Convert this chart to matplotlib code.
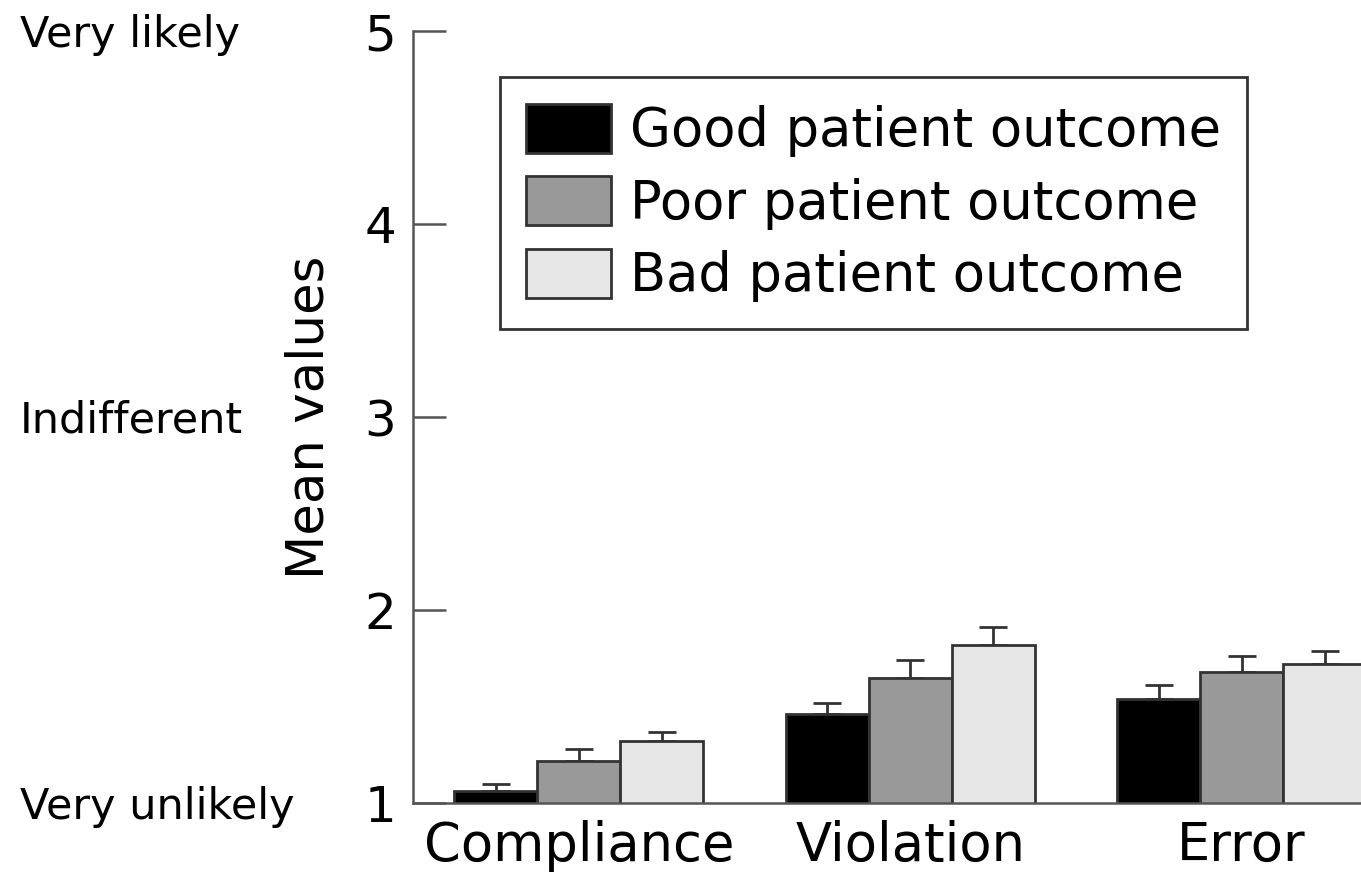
import numpy as np
import matplotlib.pyplot as plt
from matplotlib.transforms import blended_transform_factory

categories = ['Compliance', 'Violation', 'Error']
series = ['Good patient outcome', 'Poor patient outcome', 'Bad patient outcome']
good = [1.06, 1.46, 1.54]
poor = [1.22, 1.65, 1.68]
bad = [1.32, 1.82, 1.72]
good_err = [0.04, 0.06, 0.07]
poor_err = [0.06, 0.09, 0.08]
bad_err = [0.05, 0.09, 0.07]
yticks = [1, 2, 3, 4, 5]
scale_labels = {5: 'Very likely', 3: 'Indifferent', 1: 'Very unlikely'}

colors = ['#000000', '#999999', '#e6e6e6']
edge = '#333333'

fig = plt.figure(figsize=(13.61, 8.82), dpi=100)
ax = fig.add_axes([0.3035, 0.0896, 0.6965, 0.8752])

x = np.arange(len(categories))
w = 0.25
for i, (vals, errs) in enumerate(zip([good, poor, bad], [good_err, poor_err, bad_err])):
    ax.bar(x + (i - 1) * w, vals, w, color=colors[i], edgecolor=edge, linewidth=2,
           label=series[i], zorder=2)
    ax.errorbar(x + (i - 1) * w, vals, yerr=[np.zeros(3), errs], fmt='none',
                ecolor=edge, elinewidth=2, capsize=10, capthick=2, zorder=1)

ax.set_ylim(1, 5)
ax.set_xlim(-0.5, 2.36)
ax.set_yticks(yticks)
ax.set_xticks(x)
ax.set_xticklabels(categories, fontsize=38)
ax.tick_params(axis='y', direction='in', length=24, width=1.8, color='#555555',
               labelsize=36, pad=12)
ax.tick_params(axis='x', length=0, pad=12)
for s in ['top', 'right']:
    ax.spines[s].set_visible(False)
for s in ['left', 'bottom']:
    ax.spines[s].set_color('#555555')
    ax.spines[s].set_linewidth(1.8)
ax.set_ylabel('Mean values', fontsize=37, labelpad=22)

trans = blended_transform_factory(fig.transFigure, ax.transData)
for yv, txt in scale_labels.items():
    ax.text(0.0147, yv - 0.02, txt, transform=trans, fontsize=31, ha='left', va='center')

leg = ax.legend(loc='upper left', bbox_to_anchor=(0.0918, 0.94), borderaxespad=0,
                fontsize=38, handlelength=1.6, handleheight=1.05, handletextpad=0.36,
                labelspacing=0.36, borderpad=0.5, fancybox=False, framealpha=1)
leg.get_frame().set_edgecolor('#333333')
leg.get_frame().set_linewidth(2)
for p in leg.get_patches():
    p.set_edgecolor(edge)
    p.set_linewidth(2)

fig.savefig('out.png', dpi=100)
